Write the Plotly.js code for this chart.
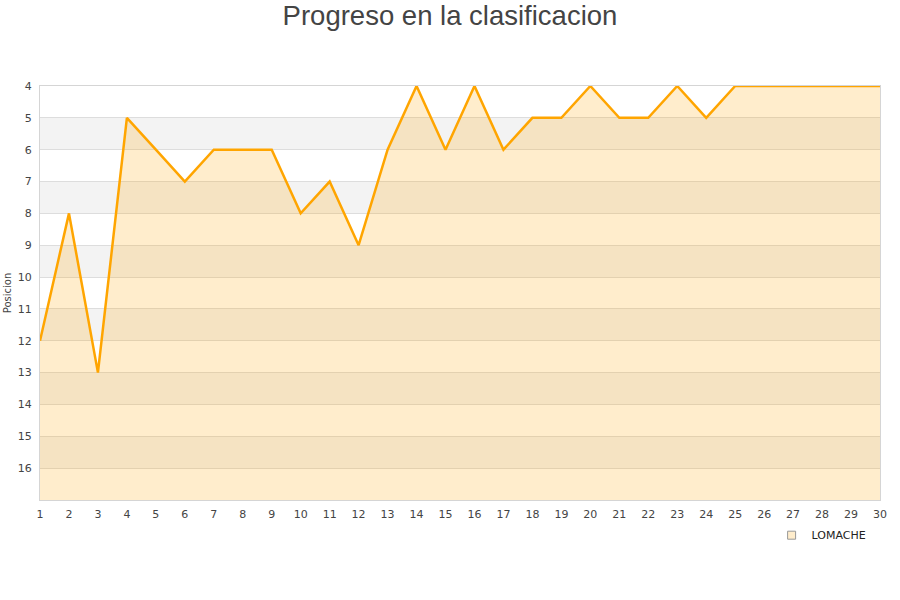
<!DOCTYPE html>
<html>
<head>
<meta charset="utf-8">
<script src="https://cdn.plot.ly/plotly-3.0.1.min.js"></script>
<style>html,body{margin:0;padding:0;background:#fff;}#chart{width:900px;height:600px;}</style>
</head>
<body>
<div id="chart"></div>
<script>
var jornadas = [1,2,3,4,5,6,7,8,9,10,11,12,13,14,15,16,17,18,19,20,21,22,23,24,25,26,27,28,29,30];
var posiciones = [12,8,13,5,6,7,6,6,6,8,7,9,6,4,6,4,6,5,5,4,5,5,4,5,4,4,4,4,4,4];
var equipo = "LOMACHE";
var yTicks = [4,5,6,7,8,9,10,11,12,13,14,15,16];
var yMin = 4, yMax = 17;

var shapes = [];
for (var v = yMin + 1; v < yMax; v += 2) {
  shapes.push({type:'rect', xref:'paper', yref:'y', x0:0, x1:1, y0:v, y1:v+1,
    fillcolor:'#f3f3f3', line:{width:0}, layer:'below'});
}

var baseline = {x: jornadas, y: jornadas.map(function(){return yMax;}), mode:'lines',
  line:{width:0, color:'rgba(0,0,0,0)'}, showlegend:false, hoverinfo:'skip'};
var main = {x: jornadas, y: posiciones, mode:'lines', name: equipo,
  line:{color:'#ffa500', width:2.5}, fill:'tonexty', fillcolor:'rgba(255,165,0,0.2)',
  showlegend:false};
var legendItem = {x:[null], y:[null], mode:'markers', name: equipo,
  marker:{symbol:'square', size:8, color:'#ffedcc', line:{color:'#999', width:1}}};

var layout = {
  width:900, height:600,
  margin:{l:40, r:20, t:86, b:100},
  paper_bgcolor:'#fff', plot_bgcolor:'#fff',
  title:{text:'Progreso en la clasificacion', x:0.5, xanchor:'center', y:0.974, yanchor:'middle',
    font:{family:'Liberation Sans, Arial, sans-serif', size:27.5, color:'#444'}},
  font:{family:'DejaVu Sans, Verdana, sans-serif', size:11, color:'#444'},
  xaxis:{range:[1,30], tickvals:jornadas, showgrid:false, zeroline:false,
    showline:true, linecolor:'#d5d5d5', linewidth:1, mirror:true,
    ticks:'outside', ticklen:4, tickcolor:'rgba(0,0,0,0)', fixedrange:true,
    tickfont:{size:11, color:'#444'}},
  yaxis:{range:[yMax, yMin], tickvals:yTicks, showgrid:true, gridcolor:'#dddddd', gridwidth:1,
    zeroline:false, showline:true, linecolor:'#d5d5d5', linewidth:1, mirror:true,
    ticks:'outside', ticklen:5, tickcolor:'rgba(0,0,0,0)',
    tickfont:{size:11, color:'#444'},
    title:{text:'Posicion', font:{size:10, color:'#444'}, standoff:4}},
  shapes: shapes,
  showlegend:true,
  legend:{orientation:'h', x:0.99, xanchor:'right', y:-0.05, yanchor:'top',
    font:{size:11, color:'#222'}, bgcolor:'rgba(0,0,0,0)'}
};

Plotly.newPlot('chart', [baseline, main, legendItem], layout, {displayModeBar:false, staticPlot:true});
</script>
</body>
</html>
